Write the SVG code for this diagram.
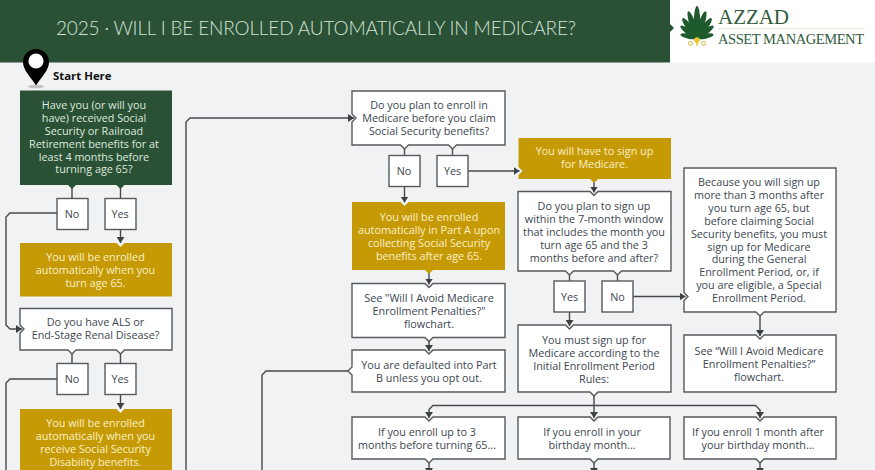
<svg xmlns="http://www.w3.org/2000/svg" width="875" height="470" viewBox="0 0 875 470">
<style>
.box{fill:#fff;stroke:#555a5e;stroke-width:1.4}
.gold{fill:#c69a05}
.dark{fill:#2a5135}
text{font-family:"Open Sans","Liberation Sans",sans-serif;font-size:10.8px;text-anchor:middle;fill:#3c4650}
.lt{fill:#dfe9df}
.gt{fill:#fbf0c8}
.ln{fill:none;stroke:#454a4e;stroke-width:1.4}
.petal{fill:#1f5a2c}
</style>
<defs>
<marker id="ah" markerUnits="userSpaceOnUse" markerWidth="7" markerHeight="8" refX="6" refY="4" orient="auto"><path d="M0 0L6 4L0 8Z" fill="#3c4144"/></marker>
</defs>
<rect width="875" height="470" fill="#f1f2f4"/>
<g id="header">
<rect width="670" height="62.500" fill="#2a5135"/>
<rect x="670" width="205" height="62.500" fill="#fff"/>
<path d="M670 24L674 28L670 32Z" fill="#2a5135"/>
<text x="56" y="35" textLength="520" style="font-family:Lato,sans-serif;font-weight:300;font-size:19px;text-anchor:start;fill:#d3e2d5">2025 · WILL I BE ENROLLED AUTOMATICALLY IN MEDICARE?</text>
</g>
<g id="logo">
<ellipse class="petal" cx="697" cy="22" rx="3.200" ry="16"/>
<ellipse class="petal" cx="697" cy="24" rx="3" ry="14" transform="rotate(-18 697 38)"/>
<ellipse class="petal" cx="697" cy="24" rx="3" ry="14" transform="rotate(18 697 38)"/>
<ellipse class="petal" cx="697" cy="26" rx="3" ry="12.500" transform="rotate(-36 697 38)"/>
<ellipse class="petal" cx="697" cy="26" rx="3" ry="12.500" transform="rotate(36 697 38)"/>
<ellipse class="petal" cx="697" cy="28" rx="2.800" ry="10.500" transform="rotate(-54 697 38)"/>
<ellipse class="petal" cx="697" cy="28" rx="2.800" ry="10.500" transform="rotate(54 697 38)"/>
<ellipse class="petal" cx="697" cy="29.500" rx="2.500" ry="8.500" transform="rotate(-78 697 38)"/>
<ellipse class="petal" cx="697" cy="29.500" rx="2.500" ry="8.500" transform="rotate(78 697 38)"/>
<g fill="none" stroke="#dcb93a" stroke-width="1">
<circle cx="690.500" cy="43.500" r="2"/><circle cx="703.500" cy="43.500" r="2"/>
</g>
<circle cx="697" cy="40" r="2.800" fill="#e8c52e"/>
<path d="M696 42H698L697.500 46H696.500Z" fill="#e8c52e"/>
<path d="M718 28.500H865" stroke="#e6e6c8" stroke-width="0.800"/>
<text x="718" y="24" textLength="71" style="font-family:'Liberation Serif',serif;font-size:21px;text-anchor:start;fill:#2f5b3a">AZZAD</text>
<text x="718" y="44" textLength="146" style="font-family:'Liberation Serif',serif;font-size:14.500px;text-anchor:start;fill:#2f5b3a">ASSET MANAGEMENT</text>
</g>
<g id="connectors">
<path class="ln" d="M72 188V198M120.500 188V198"/>
<path class="ln" marker-end="url(#ah)" d="M120.500 229V243"/>
<path class="ln" marker-end="url(#ah)" d="M57 213H10L6 217V325L10 329H22"/>
<path class="ln" d="M72 353V364M120.500 353V364"/>
<path class="ln" marker-end="url(#ah)" d="M120.500 394.500V409"/>
<path class="ln" d="M57 379H10L6 383V475"/>
<path class="ln" marker-end="url(#ah)" d="M186 475V122L190 118H354"/>
<path class="ln" d="M404.500 148V156M452.500 148V156"/>
<path class="ln" marker-end="url(#ah)" d="M404.500 186.500V202.500"/>
<path class="ln" marker-end="url(#ah)" d="M468 171H519.500"/>
<path class="ln" marker-end="url(#ah)" d="M429 273V284.500"/>
<path class="ln" marker-end="url(#ah)" d="M429 340V351"/>
<path class="ln" d="M348 371H266L262 375V475"/>
<path class="ln" marker-end="url(#ah)" d="M594 182V192.500"/>
<path class="ln" d="M569.500 274V281M617.500 274V281"/>
<path class="ln" marker-end="url(#ah)" d="M569.500 312V326"/>
<path class="ln" marker-end="url(#ah)" d="M633 296.500H685.500"/>
<path class="ln" marker-end="url(#ah)" d="M760 315V336"/>
<path class="ln" marker-end="url(#ah)" d="M594 395V418"/>
<path class="ln" marker-end="url(#ah)" d="M594 405.500H433L429 409.500V418"/>
<path class="ln" marker-end="url(#ah)" d="M594 405.500H755.500L760 410V418"/>
<path class="ln" marker-end="url(#ah)" d="M429 462V474"/>
<path class="ln" marker-end="url(#ah)" d="M594 462V474"/>
<path class="ln" marker-end="url(#ah)" d="M760 462V474"/>
</g>
<g id="pin">
<ellipse cx="36" cy="86.500" rx="8" ry="1.800" fill="#c4c4c6"/>
<path d="M36 85.500C30 76 23 70 23 62A13 13 0 0 1 49 62C49 70 42 76 36 85.500Z" fill="#000"/>
<circle cx="36" cy="61" r="7.600" fill="#fff"/>
<text x="53" y="80" style="font-weight:700;font-size:11.400px;text-anchor:start;fill:#111">Start Here</text>
</g>
<g id="n1">
<path class="dark" d="M20 90.500H172V185H124.500L120.500 189L116.500 185H76L72 189L68 185H20Z"/>
<text class="lt" x="94" y="109">Have you (or will you</text><text class="lt" x="94" y="122">have) received Social</text><text class="lt" x="94" y="134.500">Security or Railroad</text><text class="lt" x="94" y="147.500">Retirement benefits for at</text><text class="lt" x="94" y="160.500">least 4 months before</text><text class="lt" x="94" y="173">turning age 65?</text>
</g>
<g id="n1no"><rect class="box" x="57" y="198.500" width="31" height="31"/><text x="72" y="218">No</text></g>
<g id="n1yes"><rect class="box" x="105" y="198.500" width="31" height="31"/><text x="120" y="218">Yes</text></g>
<g id="n2">
<path class="gold" d="M20 243H116.500L120.500 247L124.500 243H172V296.500H20Z"/>
<text class="gt" x="95.500" y="261">You will be enrolled</text><text class="gt" x="95.500" y="274">automatically when you</text><text class="gt" x="95.500" y="287">turn age 65.</text>
</g>
<g id="n3">
<path class="box" d="M20 308.500H172V350H124.500L120.500 354L116.500 350H76L72 354L68 350H20V333L24 329L20 325Z"/>
<text x="95.500" y="326">Do you have ALS or</text><text x="95.500" y="339">End-Stage Renal Disease?</text>
</g>
<g id="n3no"><rect class="box" x="57" y="363.500" width="31" height="31"/><text x="72" y="383">No</text></g>
<g id="n3yes"><rect class="box" x="105" y="363.500" width="31" height="31"/><text x="120" y="383">Yes</text></g>
<g id="n4">
<path class="gold" d="M20 409H116.500L120.500 413L124.500 409H172V480H20Z"/>
<text class="gt" x="95.500" y="427">You will be enrolled</text><text class="gt" x="95.500" y="440">automatically when you</text><text class="gt" x="95.500" y="453">receive Social Security</text><text class="gt" x="95.500" y="466">Disability benefits.</text>
</g>
<g id="n5">
<path class="box" d="M352 91H505V145H456.500L452.500 149L448.500 145H408.500L404.500 149L400.500 145H352V122L356 118L352 114Z"/>
<text x="429" y="109">Do you plan to enroll in</text><text x="429" y="122">Medicare before you claim</text><text x="429" y="135">Social Security benefits?</text>
</g>
<g id="n5no"><rect class="box" x="389" y="155.500" width="31" height="31"/><text x="404" y="175">No</text></g>
<g id="n5yes"><rect class="box" x="437" y="155.500" width="31" height="31"/><text x="452.500" y="175">Yes</text></g>
<g id="n6">
<path class="gold" d="M352 202H400.500L404.500 206L408.500 202H505V270H433L429 274L425 270H352Z"/>
<text class="gt" x="429" y="221">You will be enrolled</text><text class="gt" x="429" y="234">automatically in Part A upon</text><text class="gt" x="429" y="247">collecting Social Security</text><text class="gt" x="429" y="260">benefits after age 65.</text>
</g>
<g id="n7">
<path class="box" d="M352 283.500H425L429 287.500L433 283.500H505V337.500H433L429 341.500L425 337.500H352Z"/>
<text x="429" y="302">See "Will I Avoid Medicare</text><text x="429" y="315">Enrollment Penalties?"</text><text x="429" y="328">flowchart.</text>
</g>
<g id="n8">
<path class="box" d="M352 350H425L429 354L433 350H505V392H352V375L348 371L352 367Z"/>
<text x="429" y="369">You are defaulted into Part</text><text x="429" y="382">B unless you opt out.</text>
</g>
<g id="n9">
<path class="box" d="M352 417H425L429 421L433 417H505V459H433L429 463L425 459H352Z"/>
<text x="427" y="436">If you enroll up to 3</text><text x="427" y="449">months before turning 65...</text>
</g>
<g id="n10">
<path class="gold" d="M518.500 138H671V179H598L594 183L590 179H518.500V175L522.500 171L518.500 167Z"/>
<text class="gt" x="594.500" y="155">You will have to sign up</text><text class="gt" x="594.500" y="168">for Medicare.</text>
</g>
<g id="n11">
<path class="box" d="M518 191.500H590L594 195.500L598 191.500H671V271H621.500L617.500 275L613.500 271H573.500L569.500 275L565.500 271H518Z"/>
<text x="594" y="210">Do you plan to sign up</text><text x="594" y="222.500">within the 7-month window</text><text x="594" y="236">that includes the month you</text><text x="594" y="249">turn age 65 and the 3</text><text x="594" y="261.500">months before and after?</text>
</g>
<g id="n11yes"><rect class="box" x="554" y="281" width="31" height="31"/><text x="569.500" y="300.500">Yes</text></g>
<g id="n11no"><rect class="box" x="602" y="281" width="31" height="31"/><text x="617.500" y="300.500">No</text></g>
<g id="n12">
<path class="box" d="M518 325H565.500L569.500 329L573.500 325H671V392H598L594 396L590 392H518Z"/>
<text x="594" y="344">You must sign up for</text><text x="594" y="357">Medicare according to the</text><text x="594" y="370">Initial Enrollment Period</text><text x="594" y="383">Rules:</text>
</g>
<g id="n13">
<path class="box" d="M518 417H590L594 421L598 417H670V459H598L594 463L590 459H518Z"/>
<text x="592" y="436">If you enroll in your</text><text x="592" y="449">birthday month...</text>
</g>
<g id="n14">
<path class="box" d="M684 417H756L760 421L764 417H836V459H764L760 463L756 459H684Z"/>
<text x="758" y="436">If you enroll 1 month after</text><text x="758" y="449">your birthday month...</text>
</g>
<g id="n15">
<path class="box" d="M684 168H836V312H764L760 316L756 312H684V300.500L688 296.500L684 292.500Z"/>
<text x="759" y="186">Because you will sign up</text><text x="759" y="199">more than 3 months after</text><text x="759" y="212">you turn age 65, but</text><text x="759" y="224.500">before claiming Social</text><text x="759" y="237.500">Security benefits, you must</text><text x="759" y="250.500">sign up for Medicare</text><text x="759" y="263">during the General</text><text x="759" y="276">Enrollment Period, or, if</text><text x="759" y="289">you are eligible, a Special</text><text x="759" y="302">Enrollment Period.</text>
</g>
<g id="n16">
<path class="box" d="M684 335H756L760 339L764 335H836V392H684Z"/>
<text x="759" y="355">See “Will I Avoid Medicare</text><text x="759" y="368">Enrollment Penalties?”</text><text x="759" y="381">flowchart.</text>
</g>
</svg>
